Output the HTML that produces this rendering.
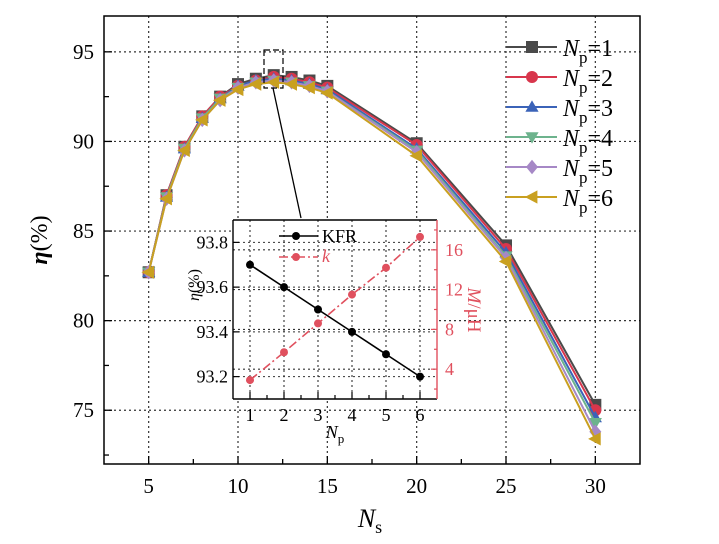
<!DOCTYPE html>
<html><head><meta charset="utf-8"><style>
html,body{margin:0;padding:0;background:#fff;}
svg{display:block;font-family:"Liberation Serif",serif;}
</style></head><body>
<svg id="chart" width="719" height="544" viewBox="0 0 719 544" xmlns="http://www.w3.org/2000/svg"></svg>
<script>
const ns=[5,6,7,8,9,10,11,12,13,14,15,20,25,30];
const np1=[82.7,87.0,89.7,91.4,92.5,93.2,93.5,93.7,93.6,93.4,93.1,89.9,84.2,75.3];
const np2=[82.7,87.0,89.7,91.4,92.5,93.1,93.4,93.6,93.5,93.3,93.0,89.8,84.0,75.0];
const np3=[82.7,86.9,89.6,91.3,92.4,93.1,93.4,93.5,93.4,93.2,92.9,89.6,83.8,74.6];
const np4=[82.7,86.9,89.6,91.3,92.4,93.0,93.3,93.4,93.3,93.1,92.8,89.5,83.6,74.3];
const np5=[82.7,86.8,89.5,91.2,92.3,93.0,93.3,93.4,93.3,93.1,92.8,89.4,83.5,73.8];
const np6=[82.7,86.8,89.5,91.2,92.3,92.9,93.2,93.3,93.2,93.0,92.7,89.2,83.3,73.4];
const xTicks=[5,10,15,20,25,30];
const yTicks=[75,80,85,90,95];
const insetNp=[1,2,3,4,5,6];
const kfr=[93.7,93.6,93.5,93.4,93.3,93.2];
const kVals=[2.9,5.7,8.6,11.5,14.2,17.3];
const insetYTicks=[93.2,93.4,93.6,93.8];
const insetKTicks=[4,8,12,16];

const S="http://www.w3.org/2000/svg";
const svg=document.getElementById('chart');
function el(t,a,p){const e=document.createElementNS(S,t);for(const k in a)e.setAttribute(k,a[k]);(p||svg).appendChild(e);return e;}
const L=104,R=640,T=16,B=464;
const X=v=>L+(v-2.5)/(32.5-2.5)*(R-L);
const Y=v=>B-(v-72)/(97-72)*(B-T);

xTicks.forEach(v=>{const g=el('line',{x1:X(v),x2:X(v),y1:T,y2:B,stroke:'#333','stroke-width':1.2,'stroke-dasharray':'2,3'});
});
yTicks.forEach(v=>{const g=el('line',{x1:L,x2:R,y1:Y(v),y2:Y(v),stroke:'#333','stroke-width':1.2,'stroke-dasharray':'2,3'});
});
for(let v=5;v<=30;v+=2.5){const m=v%5===0;const t=el('line',{x1:X(v),x2:X(v),y1:B,y2:B-(m?8:5),stroke:'#000','stroke-width':1.3});
}
for(let v=72.5;v<=97;v+=2.5){const m=v%5===0;const t=el('line',{x1:L,x2:L+(m?8:5),y1:Y(v),y2:Y(v),stroke:'#000','stroke-width':1.3});
}
xTicks.forEach(v=>{const t=el('text',{x:X(v),y:B+29,'text-anchor':'middle','font-size':21});t.textContent=v;
});
yTicks.forEach(v=>{const t=el('text',{x:L-10,y:Y(v)+7,'text-anchor':'end','font-size':21});t.textContent=v;
});

const series=[np1,np2,np3,np4,np5,np6];
const colors=['#4a4a4a','#d8364c','#3b63b8','#6db38d','#a688c6','#c9a020'];
const shapes=['square','circle','up','down','diamond','left'];
function marker(x,y,s,c,parent,sz){sz=sz||6;let e;
if(s==='square')e=el('rect',{x:x-sz,y:y-sz,width:2*sz,height:2*sz,fill:c},parent);
else if(s==='circle')e=el('circle',{cx:x,cy:y,r:sz,fill:c},parent);
else{let p;if(s==='up')p=[[0,-sz*1.1],[sz*1.1,sz*0.8],[-sz*1.1,sz*0.8]];
else if(s==='down')p=[[0,sz*1.1],[sz*1.1,-sz*0.8],[-sz*1.1,-sz*0.8]];
else if(s==='diamond')p=[[0,-sz*1.2],[sz,0],[0,sz*1.2],[-sz,0]];
else p=[[-sz*1.2,0],[sz*0.9,-sz*1.1],[sz*0.9,sz*1.1]];
e=el('polygon',{points:p.map(q=>(x+q[0])+','+(y+q[1])).join(' '),fill:c},parent);}
return e;}
series.forEach((d,i)=>{
const g=el('g',{});

const pl=el('polyline',{points:d.map((v,j)=>X(ns[j])+','+Y(v)).join(' '),fill:'none',stroke:colors[i],'stroke-width':2},g);

d.forEach((v,j)=>{const m=marker(X(ns[j]),Y(v),shapes[i],colors[i],g);
});
});

const fr=el('rect',{x:L,y:T,width:R-L,height:B-T,fill:'none',stroke:'#000','stroke-width':1.5});


const lg=el('g',{});
series.forEach((d,i)=>{const y=47+i*30;
const e=el('g',{},lg);
el('line',{x1:506,x2:557,y1:y,y2:y,stroke:colors[i],'stroke-width':2},e);
marker(532,y,shapes[i],colors[i],e,6);
const t=el('text',{x:563,y:y+9,'font-size':24},e);
t.innerHTML='<tspan font-style="italic">N</tspan><tspan font-size="17" dy="7">p</tspan><tspan dy="-7">='+(i+1)+'</tspan>';
});

const xt=el('text',{x:370,y:527,'font-size':26,'text-anchor':'middle'});
xt.innerHTML='<tspan font-style="italic">N</tspan><tspan font-size="18" dy="6">s</tspan>';

const yt=el('text',{x:0,y:0,'font-size':24,'text-anchor':'middle',transform:'translate(47,240) rotate(-90)'});
yt.innerHTML='<tspan font-style="italic" font-weight="bold">η</tspan>(%)';


const zb=el('rect',{x:264,y:50,width:19,height:38,fill:'none',stroke:'#000','stroke-width':1.2,'stroke-dasharray':'6,3'});

const cn=el('line',{x1:273,y1:88,x2:301,y2:218,stroke:'#000','stroke-width':1.3});


const IL=233,IR=437,IT=220,IB=399;
const ix=v=>IL+(v-0.5)/6*(IR-IL);
const iy=v=>IB-(v-93.1)/0.8*(IB-IT);
const ik=v=>IB-(v-1)/18*(IB-IT);
const ig=el('g',{});
el('rect',{x:IL,y:IT,width:IR-IL,height:IB-IT,fill:'#fff'},ig);
insetNp.forEach(v=>{const g=el('line',{x1:ix(v),x2:ix(v),y1:IT,y2:IB,stroke:'#333','stroke-width':1.1,'stroke-dasharray':'2,3'},ig);
});
insetYTicks.forEach(v=>{const g=el('line',{x1:IL,x2:IR,y1:iy(v),y2:iy(v),stroke:'#333','stroke-width':1.1,'stroke-dasharray':'2,3'},ig);
});
insetKTicks.forEach(v=>{const g=el('line',{x1:IL,x2:IR,y1:ik(v),y2:ik(v),stroke:'#333','stroke-width':1.1,'stroke-dasharray':'2,3'},ig);
});
for(let v=1;v<=6;v+=0.5){const t=el('line',{x1:ix(v),x2:ix(v),y1:IB,y2:IB-(v%1===0?7:4),stroke:'#000','stroke-width':1.2},ig);
}
insetNp.forEach(v=>{const t=el('text',{x:ix(v),y:IB+22,'text-anchor':'middle','font-size':18},ig);t.textContent=v;
});
insetYTicks.forEach(v=>{const t=el('text',{x:IL-5,y:iy(v)+6,'text-anchor':'end','font-size':18},ig);t.textContent=v.toFixed(1);

el('line',{x1:IL,x2:IL+6,y1:iy(v),y2:iy(v),stroke:'#000','stroke-width':1.2},ig);});
for(let v=2;v<=18;v+=2){const t=el('line',{x1:IR,x2:IR-(v%4===0?6:3),y1:ik(v),y2:ik(v),stroke:'#e0505e','stroke-width':1.2},ig);
}
insetKTicks.forEach(v=>{const t=el('text',{x:IR+8,y:ik(v)+6,'font-size':18,fill:'#e0505e'},ig);t.textContent=v;
});
const kl=el('polyline',{points:kfr.map((v,j)=>ix(insetNp[j])+','+iy(v)).join(' '),fill:'none',stroke:'#000','stroke-width':1.6},ig);

kfr.forEach((v,j)=>{const c=el('circle',{cx:ix(insetNp[j]),cy:iy(v),r:4,fill:'#000'},ig);
});
const kk=el('polyline',{points:kVals.map((v,j)=>ix(insetNp[j])+','+ik(v)).join(' '),fill:'none',stroke:'#e0505e','stroke-width':1.6,'stroke-dasharray':'9,3,2,3'},ig);

kVals.forEach((v,j)=>{const c=el('circle',{cx:ix(insetNp[j]),cy:ik(v),r:4,fill:'#e0505e'},ig);
});
el('line',{x1:IL,x2:IL,y1:IT,y2:IB,stroke:'#000','stroke-width':1.4},ig);
el('line',{x1:IL,x2:IR,y1:IB,y2:IB,stroke:'#000','stroke-width':1.4},ig);
el('line',{x1:IL,x2:IR,y1:IT,y2:IT,stroke:'#000','stroke-width':1.4},ig);
el('line',{x1:IR,x2:IR,y1:IT,y2:IB,stroke:'#e0505e','stroke-width':1.4},ig);
const il=el('g',{},ig);
el('line',{x1:279,x2:318,y1:236,y2:236,stroke:'#000','stroke-width':1.6},il);
el('circle',{cx:296,cy:236,r:4,fill:'#000'},il);
const t1=el('text',{x:322,y:242,'font-size':18},il);t1.textContent='KFR';
el('line',{x1:279,x2:318,y1:257,y2:257,stroke:'#e0505e','stroke-width':1.6,'stroke-dasharray':'9,3,2,3'},il);
el('circle',{cx:296,cy:257,r:4,fill:'#e0505e'},il);
const t2=el('text',{x:322,y:262,'font-size':18,'font-style':'italic',fill:'#e0505e'},il);t2.textContent='k';
const ixt=el('text',{x:335,y:438,'font-size':18,'text-anchor':'middle'},ig);
ixt.innerHTML='<tspan font-style="italic">N</tspan><tspan font-size="13" dy="5">p</tspan>';

const iyt=el('text',{x:0,y:0,'font-size':16,'text-anchor':'middle',transform:'translate(199,285) rotate(-90)'},ig);
iyt.innerHTML='<tspan font-style="italic">η</tspan>(%)';

const ikt=el('text',{x:0,y:0,'font-size':19,'text-anchor':'middle',fill:'#e0505e',transform:'translate(468,310) rotate(90)'},ig);
ikt.innerHTML='<tspan font-style="italic">M</tspan>/μH';

</script>
</body></html>
